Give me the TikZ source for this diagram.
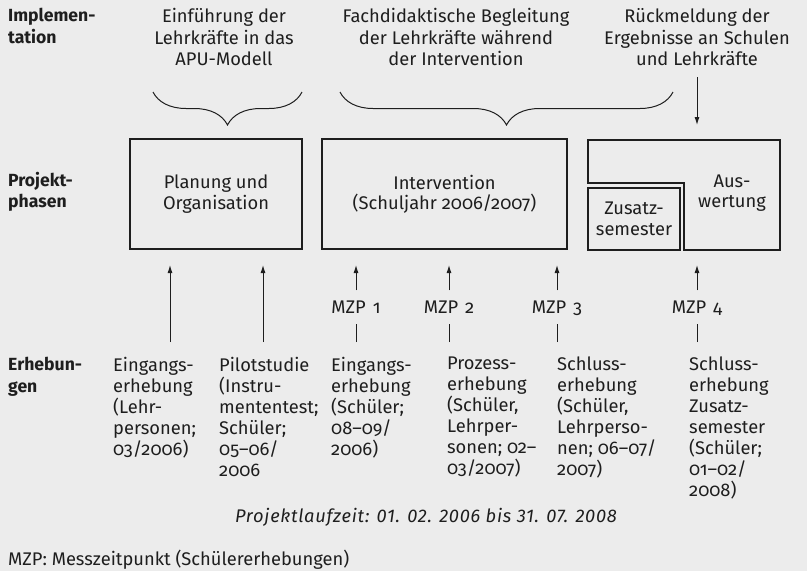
\documentclass[tikz,border=0pt]{standalone}
\usepackage{fontspec}
\setmainfont{Fira Sans}[Numbers=OldStyle]
\usetikzlibrary{positioning,decorations.pathreplacing,arrows.meta}
\definecolor{bgcol}{RGB}{236,236,236}
\definecolor{inkcol}{RGB}{30,30,30}
\begin{document}
\begin{tikzpicture}[
    x=1pt, y=-1pt,
    % define styles
    every node/.style={
        font=\fontsize{18.3}{20.4}\selectfont,
        text=inkcol,
        inner sep=0
    },
    rowlabel/.style={
        anchor=north west,
        align=left,
        font=\fontsize{17.6}{21.5}\selectfont\bfseries
    },
    toptext/.style={
        anchor=north,
        align=center,
        font=\fontsize{18.3}{21.5}\selectfont
    },
    phase/.style={
        draw=inkcol,
        line width=1.3pt,
        align=center
    },
    survey/.style={
        anchor=north west,
        align=left,
        font=\fontsize{18.3}{21}\selectfont
    },
    mzp/.style={
        text height=12pt,
        text depth=0pt,
        minimum height=33pt
    },
    bracket/.style={
        draw=inkcol,
        line width=1pt,
        decorate,
        decoration={brace, amplitude=33pt}
    },
    >={Latex[length=8pt,width=5pt]}
]
% background and page size
\fill[bgcol, use as bounding box] (0,0) rectangle (807,571);

% row labels on the left
\node[rowlabel] (implabel) at (8,8) {Implemen-\\tation};
\node[rowlabel] (phaselabel) at (8,172) {Projekt-\\phasen};
\node[rowlabel] (erhlabel) at (8,357) {Erhebun-\\gen};

% implementation texts
\node[toptext] (einf) at (224,8.5) {Einführung der\\Lehrkräfte in das\\APU-Modell};
\node[toptext] (begl) at (456,8.5) {Fachdidaktische Begleitung\\der Lehrkräfte während\\der Intervention};
\node[toptext] (rueck) at (697,8.5) {Rückmeldung der\\Ergebnisse an Schulen\\und Lehrkräfte};

% braces below the texts
\draw[bracket] (302,92) -- (153,92);
\draw[bracket] (673,92) -- (340,92);
\coordinate (rueckend) at (697,125);
\draw[->, inkcol, line width=1pt] (697,77) -- (rueckend);

% project phases
\node[phase, minimum width=172, minimum height=110] (planung) at (216,194)
    {Planung und\\Organisation};
\node[phase, minimum width=245, minimum height=110] (intervention) at (444.5,194)
    {Intervention\\(Schuljahr 2006/2007)};
\node[phase, minimum width=92, minimum height=62] (zusatz) at (634,219)
    {Zusatz-\\semester};
\draw[inkcol, line width=1.3pt] (588,140) -- (780,140) -- (780,250)
    -- (684,250) -- (684,183) -- (588,183) -- cycle;
\node[align=center] (auswertung) at (732,193) {Aus-\\wertung};

% surveys
\node[survey] (erh1) at (113,357) {Eingangs-\\erhebung\\(Lehr-\\personen;\\03/2006)};
\node[survey] (erh2) at (219,357) {Pilotstudie\\(Instru-\\mententest;\\Schüler;\\05--06/\\2006};
\node[survey] (erh3) at (331,357) {Eingangs-\\erhebung\\(Schüler;\\08--09/\\2006)};
\node[survey] (erh4) at (447,357) {Prozess-\\erhebung\\(Schüler,\\Lehrper-\\sonen; 02--\\03/2007)};
\node[survey] (erh5) at (557,357) {Schluss-\\erhebung\\(Schüler,\\Lehrperso-\\nen; 06--07/\\2007)};
\node[survey] (erh6) at (689,357) {Schluss-\\erhebung\\Zusatz-\\semester\\(Schüler;\\01--02/\\2008)};

% arrows from the surveys without MZP
\foreach \x/\n in {170/a, 263/b} {
    \coordinate (\n top) at (\x,265);
    \coordinate (\n bot) at (\x,342);
    \draw[->, inkcol, line width=1pt] (\n bot) -- (\n top);
}

% measuring points
\foreach \x/\i in {356/1, 449/2, 557/3, 697/4} {
    \node[mzp] (mzp\i) at (\x,307) {MZP\hspace{0.38em}\i};
    \coordinate (mzptop\i) at (\x,265);
    \coordinate (mzpbot\i) at (\x,342);
    \draw[->, inkcol, line width=1pt] (mzp\i) -- (mzptop\i);
    \draw[inkcol, line width=1pt] (mzpbot\i) -- (mzp\i);
}

% duration and legend
\node[font=\fontsize{18.3}{20.4}\selectfont\itshape\addfontfeatures{Numbers=Lining,LetterSpace=4}] (laufzeit) at (426,517)
    {Projektlaufzeit: 01. 02. 2006 bis 31. 07. 2008};
\node[anchor=west] (legende) at (8,560) {MZP: Messzeitpunkt (Schülererhebungen)};
\end{tikzpicture}
\end{document}
